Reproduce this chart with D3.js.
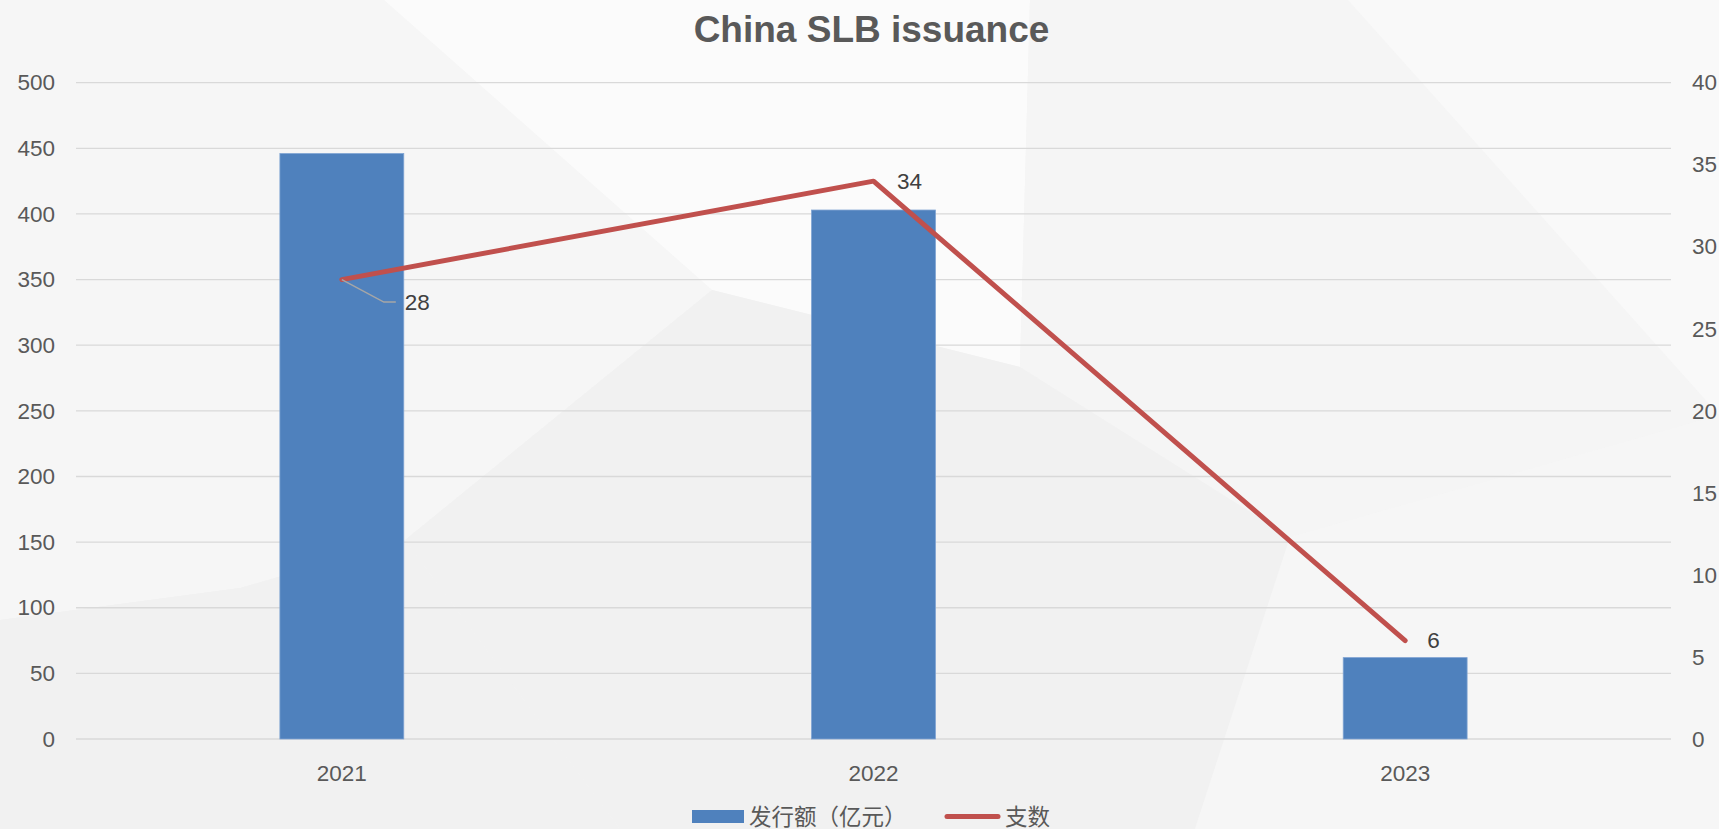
<!DOCTYPE html>
<html>
<head>
<meta charset="utf-8">
<script src="https://cdn.jsdelivr.net/npm/d3@7/dist/d3.min.js"></script>
<style>
  html, body { margin: 0; padding: 0; background: #f2f2f2; overflow: hidden; }
  svg { display: block; font-family: "Liberation Sans", Arial, "Noto Sans CJK SC", sans-serif; }
</style>
</head>
<body>
<svg id="chart" width="1719" height="829"></svg>
<script>
// Data
const years = ["2021", "2022", "2023"];
const amount = [446, 403, 62];      // 发行额（亿元）, left axis
const count = [28, 34, 6];          // 支数, right axis
const leftTicks = [0, 50, 100, 150, 200, 250, 300, 350, 400, 450, 500];
const rightTicks = [0, 5, 10, 15, 20, 25, 30, 35, 40];
const seriesNames = ["发行额（亿元）", "支数"];
const titleText = "China SLB issuance";

const W = 1719, H = 829;
const plot = { left: 76, right: 1671, top: 82.7, bottom: 739 };
const svg = d3.select("#chart");

// Soft faceted background
const bg = svg.append("g");
bg.append("rect").attr("width", W).attr("height", H).attr("fill", "#f3f3f3");
const facets = [
  { pts: [[0,0],[384,0],[712,290],[405,540],[240,588],[0,620]], fill: "#f6f6f6" },
  { pts: [[384,0],[1030,0],[1020,367],[712,290]], fill: "#fbfbfb" },
  { pts: [[1030,0],[1348,0],[1719,415],[1290,537],[1020,367]], fill: "#f5f5f5" },
  { pts: [[405,540],[712,290],[1020,367],[1290,537],[1195,829],[620,829]], fill: "#f1f1f1" },
  { pts: [[1290,537],[1719,415],[1719,829],[1195,829]], fill: "#f6f6f6" },
  { pts: [[0,620],[240,588],[405,540],[620,829],[0,829]], fill: "#f1f1f1" },
  { pts: [[1348,0],[1719,0],[1719,415]], fill: "#f9f9f9" }
];
bg.selectAll("polygon").data(facets).join("polygon")
  .attr("points", d => d.pts.map(p => p.join(",")).join(" "))
  .attr("fill", d => d.fill);

// Scales
const x = d3.scaleBand().domain(years).range([plot.left, plot.right]).paddingInner(0).paddingOuter(0);
const barW = x.step() * 0.233;
const yL = d3.scaleLinear().domain([0, 500]).range([plot.bottom, plot.top]);
const yR = d3.scaleLinear().domain([0, 40]).range([plot.bottom, plot.top]);
const cx = d => x(d) + x.bandwidth() / 2;

// Gridlines
svg.append("g").selectAll("line").data(leftTicks).join("line")
  .attr("x1", plot.left).attr("x2", plot.right)
  .attr("y1", d => yL(d)).attr("y2", d => yL(d))
  .attr("stroke", "#d9d9d9").attr("stroke-width", 1.3);

// Left axis
const leftAxis = svg.append("g").attr("transform", `translate(${plot.left - 21},0)`)
  .call(d3.axisLeft(yL).tickValues(leftTicks).tickSize(0).tickPadding(0));
leftAxis.select(".domain").remove();
leftAxis.selectAll("text").attr("font-size", 22.5).attr("fill", "#595959")
  .attr("font-family", "Liberation Sans, Arial, sans-serif");

// Right axis
const rightAxis = svg.append("g").attr("transform", `translate(${plot.right + 21},0)`)
  .call(d3.axisRight(yR).tickValues(rightTicks).tickSize(0).tickPadding(0));
rightAxis.select(".domain").remove();
rightAxis.selectAll("text").attr("font-size", 22.5).attr("fill", "#595959")
  .attr("font-family", "Liberation Sans, Arial, sans-serif");

// Bottom axis
const bottomAxis = svg.append("g").attr("transform", `translate(0,${plot.bottom + 26})`)
  .call(d3.axisBottom(x).tickSize(0).tickPadding(0));
bottomAxis.select(".domain").remove();
bottomAxis.selectAll("text").attr("font-size", 22.5).attr("fill", "#595959")
  .attr("font-family", "Liberation Sans, Arial, sans-serif");

// Bars
svg.append("g").selectAll("rect").data(years).join("rect")
  .attr("x", (d) => cx(d) - barW / 2)
  .attr("width", barW)
  .attr("y", (d, i) => yL(amount[i]))
  .attr("height", (d, i) => yL(0) - yL(amount[i]))
  .attr("fill", "#4f81bd")
  .attr("stroke", "#7fa3d2").attr("stroke-width", 0.8);

// Line
const line = d3.line().x(d => cx(d.year)).y(d => yR(d.v));
const pts = years.map((y, i) => ({ year: y, v: count[i] }));
svg.append("path").datum(pts)
  .attr("d", line)
  .attr("fill", "none")
  .attr("stroke", "#c0504d").attr("stroke-width", 5)
  .attr("stroke-linejoin", "round").attr("stroke-linecap", "round");

// Data labels
const lbl = svg.append("g").attr("font-size", 22.5).attr("fill", "#404040")
  .attr("font-family", "Liberation Sans, Arial, sans-serif");
// 2021 label with leader line
const p0x = cx(years[0]), p0y = yR(count[0]);
svg.append("polyline")
  .attr("points", `${p0x},${p0y} ${p0x + 42},${p0y + 22.5} ${p0x + 54},${p0y + 22.5}`)
  .attr("fill", "none").attr("stroke", "#a6a6a6").attr("stroke-width", 1.5);
lbl.append("text").attr("x", p0x + 63).attr("y", p0y + 30.5).text(count[0]);
lbl.append("text").attr("x", cx(years[1]) + 23.5).attr("y", yR(count[1]) + 8).text(count[1]);
lbl.append("text").attr("x", cx(years[2]) + 22).attr("y", yR(count[2]) + 7.5).text(count[2]);

// Title
svg.append("text").attr("x", 871.5).attr("y", 41.5).attr("text-anchor", "middle")
  .attr("font-size", 37).attr("font-weight", "bold").attr("fill", "#595959")
  .attr("font-family", "Liberation Sans, Arial, sans-serif")
  .text(titleText);

// Legend
const lg = svg.append("g").attr("font-size", 22.5).attr("fill", "#595959")
  .attr("font-family", "Noto Sans CJK SC, sans-serif");
lg.append("rect").attr("x", 692).attr("y", 810).attr("width", 52).attr("height", 13).attr("fill", "#4f81bd");
lg.append("text").attr("x", 749).attr("y", 824.5).text(seriesNames[0]);
lg.append("line").attr("x1", 947).attr("x2", 998).attr("y1", 816.5).attr("y2", 816.5)
  .attr("stroke", "#c0504d").attr("stroke-width", 5).attr("stroke-linecap", "round");
lg.append("text").attr("x", 1005).attr("y", 824.5).text(seriesNames[1]);
</script>
</body>
</html>
